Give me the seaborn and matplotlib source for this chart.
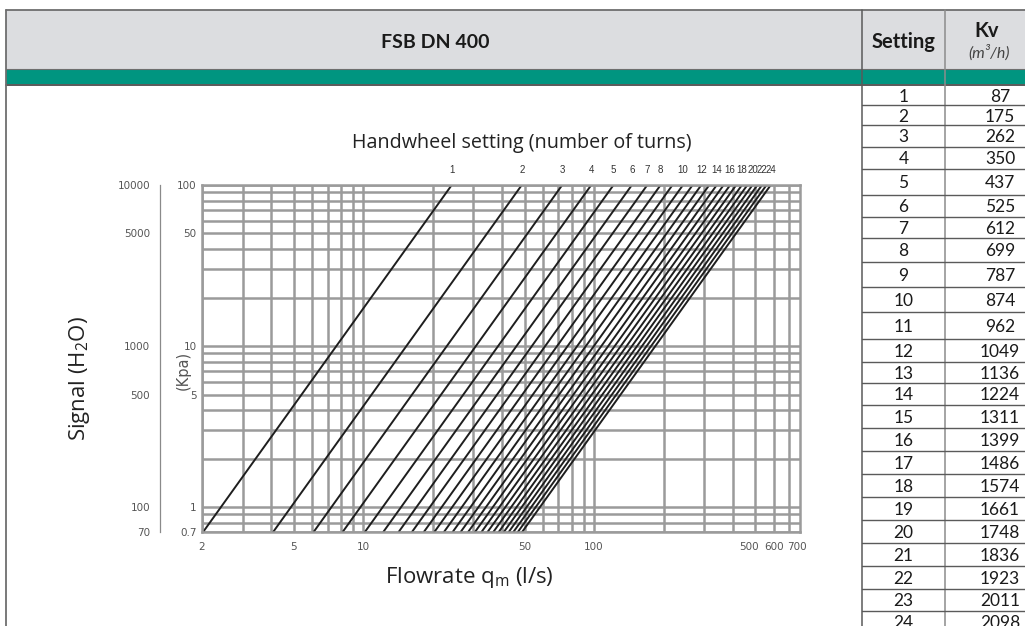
import numpy as np
import pandas as pd
import matplotlib
matplotlib.use("Agg")
import matplotlib.pyplot as plt
import matplotlib.ticker as mticker
from matplotlib.patches import Rectangle
import seaborn as sns

# ---------------- data ----------------
settings = list(range(1, 25))
kv_values = [87, 175, 262, 350, 437, 525, 612, 699, 787, 874, 962, 1049,
             1136, 1224, 1311, 1399, 1486, 1574, 1661, 1748, 1836, 1923, 2011, 2098]
dp_range_kpa = [0.7, 100]
turn_labels = [1, 2, 3, 4, 5, 6, 7, 8, 10, 12, 14, 16, 18, 20, 22, 24]
x_tick_labels = [2, 5, 10, 50, 100, 500, 600, 700]
x_grid = [2, 3, 4, 5, 6, 7, 8, 9, 10, 20, 30, 40, 50, 60, 70, 80, 90,
          100, 200, 300, 400, 500, 600, 700]
kpa_ticks = [0.7, 1, 5, 10, 50, 100]
kpa_grid = [0.7, 0.8, 0.9, 1, 2, 3, 4, 5, 6, 7, 8, 9, 10, 20, 30, 40, 50,
            60, 70, 80, 90, 100]
h2o_ticks = [70, 100, 500, 1000, 5000, 10000]

# flow through each valve setting: q[l/s] = Kv/3.6 * sqrt(dp / 1 bar)
rows = []
for s, kv in zip(settings, kv_values):
    for dp in dp_range_kpa:
        rows.append({"setting": s, "q": kv / 3.6 * np.sqrt(dp / 100.0), "dp": dp})
df = pd.DataFrame(rows)

# ---------------- style ----------------
sns.set_style("white")
plt.rcParams["font.family"] = ["Open Sans", "DejaVu Sans"]
plt.rcParams["mathtext.fontset"] = "custom"
plt.rcParams["mathtext.rm"] = "Open Sans"

W, H = 1025, 626
fig = plt.figure(figsize=(W / 100, H / 100), dpi=100)

# background / table layer in pixel coordinates
bg = fig.add_axes([0, 0, 1, 1], zorder=0)
bg.set_xlim(0, W)
bg.set_ylim(H, 0)
bg.axis("off")

header_gray = "#dcdde0"
green = "#009580"
dark = "#5a5a5a"
mid = "#8c8c8c"

bg.add_patch(Rectangle((6, 10), W - 6, 59, facecolor=header_gray, edgecolor="none"))
bg.add_patch(Rectangle((6, 69), W - 6, 15, facecolor=green, edgecolor="none"))
bg.plot([6, W], [10, 10], color="#6e6e6e", lw=1.3)
bg.plot([6, W], [69, 69], color="#6e6e6e", lw=0.8)
bg.plot([6, W], [84.5, 84.5], color="#3c3c3c", lw=1.2)
bg.plot([6, 6], [10, H], color="#6e6e6e", lw=1.3)
bg.plot([862, 862], [10, H], color=dark, lw=1.1)
bg.plot([945, 945], [10, H], color=mid, lw=1.1)

hdr_font = ["Lato", "DejaVu Sans"]
bg.text(435, 42, "FSB DN 400", ha="center", va="center", fontsize=14,
        fontweight="bold", family=hdr_font, color="#1a1a1a")
bg.text(903.5, 42, "Setting", ha="center", va="center", fontsize=14.5,
        fontweight="bold", family=hdr_font, color="#1a1a1a")
bg.text(987, 31, "Kv", ha="center", va="center", fontsize=14.5,
        fontweight="bold", family=hdr_font, color="#1a1a1a")
bg.text(989, 53, "(m³/h)", ha="center", va="center", fontsize=11.5,
        style="italic", family=hdr_font, color="#444444")

# table rows
row_lines = [85, 105, 125, 147, 169, 195, 217, 238, 262, 287, 312, 339, 362,
             383, 405, 428, 451, 474, 497, 520, 543, 566, 589, 611, 633]
for yl in row_lines[1:-1]:
    bg.plot([862, W], [yl, yl], color=dark, lw=1.0)
for i, (s, kv) in enumerate(zip(settings, kv_values)):
    yc = (row_lines[i] + row_lines[i + 1]) / 2 + 1.5
    bg.text(903.5, yc, str(s), ha="center", va="center", fontsize=12.5,
            family=hdr_font, color="#1a1a1a")
    bg.text(1000, yc, str(kv), ha="center", va="center", fontsize=12.5,
            family=hdr_font, color="#1a1a1a")

# ---------------- chart ----------------
L, R, T, B = 202, 800, 185, 532
ax = fig.add_axes([L / W, (H - B) / H, (R - L) / W, (B - T) / H], zorder=2)
sns.lineplot(data=df, x="q", y="dp", units="setting", estimator=None,
             color="#1e1e1e", lw=1.4, legend=False, ax=ax)
ax.set_xscale("log")
ax.set_yscale("log")
ax.set_xlim(2, 780)
ax.set_ylim(0.7, 100)

grid_color = "#9b9b9b"
for v in x_grid:
    ax.axvline(v, color=grid_color, lw=1.8, zorder=0)
for v in kpa_grid:
    ax.axhline(v, color=grid_color, lw=1.8, zorder=0)
for sp in ax.spines.values():
    sp.set_color(grid_color)
    sp.set_linewidth(1.8)

# x tick labels (crowded upper ones nudged apart a little, as in the reference)
label_nudge_pt = {500: -4.5, 600: 0.0, 700: 5.5}
ax.set_xticks([])
ax.yaxis.set_major_locator(mticker.FixedLocator(kpa_ticks))
ax.yaxis.set_major_formatter(mticker.FixedFormatter([f"{v:g}" for v in kpa_ticks]))
ax.yaxis.set_minor_locator(mticker.NullLocator())
ax.xaxis.set_minor_locator(mticker.NullLocator())
ax.tick_params(axis="y", length=0, pad=4, labelcolor="#555555")
for lab in ax.get_yticklabels():
    lab.set_fontfamily("DejaVu Sans")
    lab.set_fontsize(7.5)
for v in x_tick_labels:
    ax.annotate(str(v), xy=(v, 0.7), xytext=(label_nudge_pt.get(v, 0.0), -11),
                textcoords="offset points", ha="center", va="center",
                fontsize=7.5, family="DejaVu Sans", color="#555555",
                annotation_clip=False)
ax.set_xlabel("")
ax.set_ylabel("")

# setting (turn) labels above the lines
for s in turn_labels:
    q_top = kv_values[settings.index(s)] / 3.6
    ax.annotate(str(s), xy=(q_top, 100), xytext=(0, 11), textcoords="offset points",
                ha="center", va="center", fontsize=7, family="Liberation Sans",
                color="#333333", annotation_clip=False)

# secondary H2O axis
axh = fig.add_axes([160 / W, (H - B) / H, 0.0001, (B - T) / H], zorder=1)
axh.set_yscale("log")
axh.set_ylim(70, 10000)
axh.set_xticks([])
for k in ["top", "right", "bottom"]:
    axh.spines[k].set_visible(False)
axh.spines["left"].set_color("#8a8a8a")
axh.spines["left"].set_linewidth(0.9)
axh.patch.set_alpha(0)
axh.yaxis.set_major_locator(mticker.FixedLocator(h2o_ticks))
axh.yaxis.set_major_formatter(mticker.FixedFormatter([str(v) for v in h2o_ticks]))
axh.yaxis.set_minor_locator(mticker.NullLocator())
axh.tick_params(axis="y", length=4, width=0.9, color="#8a8a8a", pad=3,
                labelcolor="#555555", labelsize=7.5)
for lab in axh.get_yticklabels():
    lab.set_fontfamily("DejaVu Sans")

# texts
bg.text(522, 143, "Handwheel setting (number of turns)", ha="center", va="center",
        fontsize=14.2, color="#222222", family=["Open Sans", "DejaVu Sans"])
bg.text(469, 578, r"Flowrate q$_\mathregular{m}$ (l/s)", ha="center", va="center",
        fontsize=16, color="#222222")
bg.text(79, 378, r"Signal (H$_\mathregular{2}$O)", ha="center", va="center",
        fontsize=16, color="#222222", rotation=90)
bg.text(183, 370, "(Kpa)", ha="center", va="center", fontsize=10.5, rotation=90,
        family="DejaVu Sans", color="#555555")

fig.savefig("out.png", dpi=100)
